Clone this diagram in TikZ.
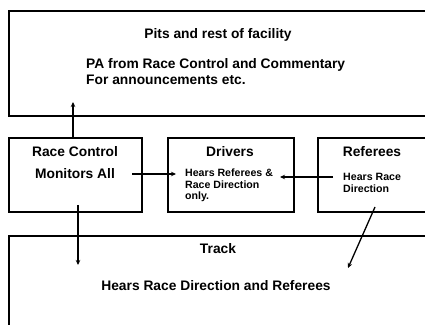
\documentclass[tikz,border=0pt]{standalone}
\usepackage{fontspec}
\setmainfont{Liberation Sans}
\usetikzlibrary{arrows.meta}
\begin{document}
\begin{tikzpicture}[x=1pt,y=1pt,
  box/.style={draw=black, line width=1.7pt, rectangle, anchor=south west, inner sep=0pt},
  big/.style={font=\bfseries\fontsize{13.8}{15.5}\selectfont, inner sep=0pt},
  small/.style={font=\bfseries\fontsize{10.6}{11.8}\selectfont, inner sep=0pt, align=left},
  arr/.style={line width=1.3pt, -{Stealth[length=5pt,width=4.5pt]}}]
\useasboundingbox (0,0) rectangle (425,324);
\fill[white] (0,0) rectangle (425,324);
\clip (0,0) rectangle (425,324);
% boxes
\node[box, minimum width=422pt, minimum height=105pt] (top) at (8,207) {};
\node[box, minimum width=133pt, minimum height=74pt] (rc) at (8,111) {};
\node[box, minimum width=126pt, minimum height=74pt] (drv) at (167,111) {};
\node[box, minimum width=113pt, minimum height=74pt] (ref) at (317,111) {};
\node[box, minimum width=422pt, minimum height=93pt] (track) at (8,-6) {};
% texts
\node[big] (pits) at (218,289) {Pits and rest of facility};
\node[big, anchor=west] (pa) at (86,259) {PA from Race Control and Commentary};
\node[big, anchor=west] (ann) at (86,244) {For announcements etc.};
\node[big] (rct) at (75,172) {Race Control};
\node[big] (mon) at (75,150) {Monitors All};
\node[big] (drvt) at (230,172) {Drivers};
\node[small, anchor=north west] (drvs) at (185,155.5) {Hears Referees \&\\Race Direction\\only.};
\node[big] (reft) at (372,172) {Referees};
\node[small, anchor=north west] (refs) at (343,150.5) {Hears Race\\Direction};
\node[big] (trt) at (218,75) {Track};
\node[big] (trs) at (216,38) {Hears Race Direction and Referees};
% arrow ends
\coordinate (upend) at (73,222);
\coordinate (rcdown) at (78,119);
\coordinate (trackin) at (78,59);
\coordinate (refdown) at (375,117);
\coordinate (trackin2) at (348,56);
\coordinate (rcr) at (132,150);
\coordinate (drvl) at (176,150);
\coordinate (refl) at (333,147);
\coordinate (drvr) at (280,147);
% arrows
\draw[arr] (rc.north -| upend) -- (upend);
\draw[arr] (rcr) -- (drvl);
\draw[arr] (refl) -- (drvr);
\draw[arr] (rcdown) -- (trackin);
\draw[arr] (refdown) -- (trackin2);
\end{tikzpicture}
\end{document}
